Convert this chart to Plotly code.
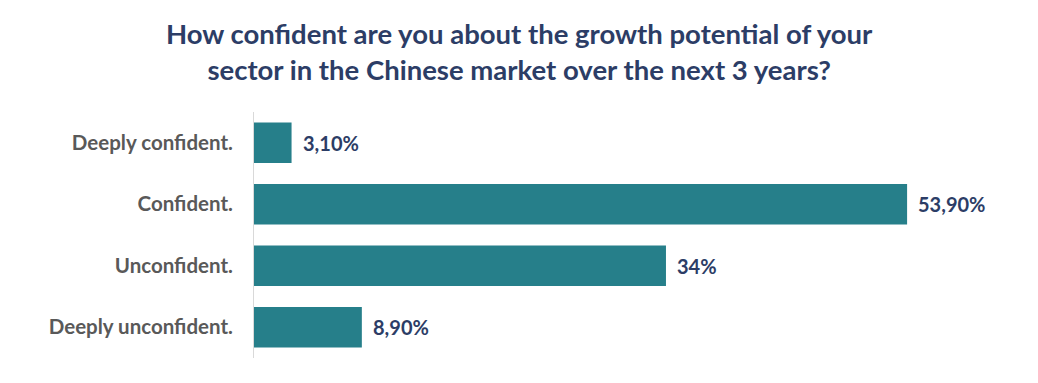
import plotly.graph_objects as go

categories = ["Deeply confident.", "Confident.", "Unconfident.", "Deeply unconfident."]
values = [3.1, 53.9, 34.0, 8.9]
value_labels = ["3,10%", "53,90%", "34%", "8,90%"]

BAR = "#267F8A"
NAVY = "#2C3D66"
GREY = "#595959"
FONT = "Lato"

fig = go.Figure()
fig.add_trace(go.Bar(
    y=categories, x=values, orientation="h",
    marker=dict(color=BAR, line=dict(width=0)),
    width=0.66, hoverinfo="skip",
))

for c, v, t in zip(categories, values, value_labels):
    fig.add_annotation(x=v, y=c, text=t, showarrow=False, xanchor="left",
                       xshift=9, font=dict(family=FONT, size=20, color=NAVY, weight="bold"))

fig.add_annotation(xref="paper", yref="paper", x=(519-254)/727, y=1, yanchor="bottom",
                   yshift=24, showarrow=False, align="center",
                   text="How confident are you about the growth potential of your<br>sector in the Chinese market over the next 3 years?",
                   font=dict(family=FONT, size=27.5, color=NAVY, weight="bold"))

fig.update_layout(
    width=1038, height=383,
    margin=dict(l=254, r=57, t=112, b=25),
    paper_bgcolor="white", plot_bgcolor="white",
    showlegend=False,
    bargap=0.34,
    xaxis=dict(range=[0, 60], visible=False, fixedrange=True),
    yaxis=dict(categoryorder="array", categoryarray=categories[::-1],
               showline=True, linecolor="#D9D9D9", linewidth=1, ticks="",
               ticklabelstandoff=16, showgrid=False, automargin=False,
               tickfont=dict(family=FONT, size=20.5, color=GREY, weight="bold"),
               fixedrange=True),
)

fig.write_html("out.html", config={"displayModeBar": False},
               post_script="document.body.style.margin='0';")
